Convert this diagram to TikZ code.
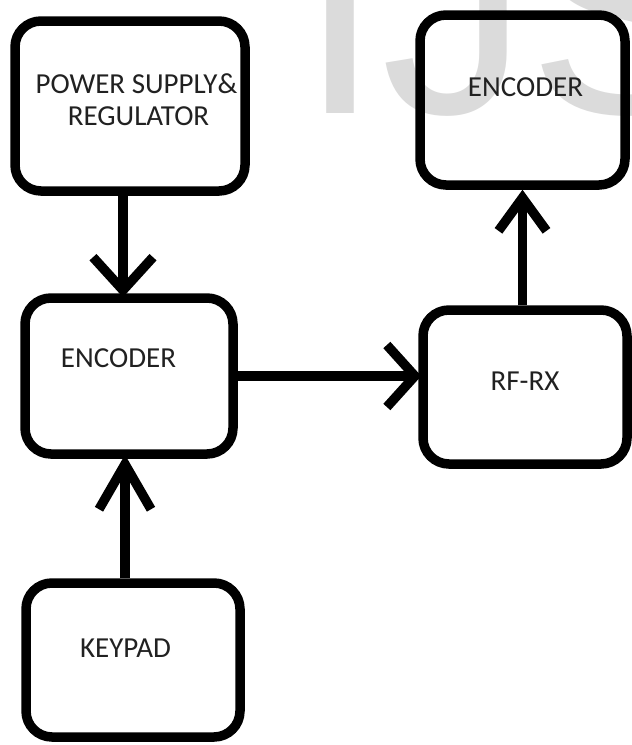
\documentclass[tikz,border=0pt]{standalone}
\usepackage{fontspec}
\setmainfont{Carlito}
\newfontfamily\wmfont{Liberation Sans}
\usetikzlibrary{arrows.meta,calc}
\definecolor{wmgray}{gray}{0.86}
\definecolor{inkgray}{gray}{0.13}
\begin{document}
\begin{tikzpicture}[x=1pt,y=-1pt,
  block/.style={draw, line width=9.5pt, rounded corners=26pt, inner sep=0pt},
  lbl/.style={font=\fontsize{29}{32}\selectfont, text=inkgray, anchor=base, inner sep=0pt},
  flow/.style={line width=9.5pt}]
  % page
  \useasboundingbox (0,0) rectangle (632,745);
  \fill[white] (0,0) rectangle (632,745);

  % watermark lettering
  \begin{scope}
    \clip (0,0) rectangle (632,745);
    \node[anchor=base west, inner sep=0pt, text=wmgray,
          font=\wmfont\fontsize{295}{295}\selectfont] (wm) at (299,113) {IJSER};
  \end{scope}

  % blocks
  \node[block, minimum width=230pt, minimum height=170pt] (ps)     at (130,106) {};
  \node[block, minimum width=208pt, minimum height=156pt] (encl)   at (129,376) {};
  \node[block, minimum width=214pt, minimum height=154pt] (keypad) at (133,660) {};
  \node[block, minimum width=205pt, minimum height=170pt] (encr)   at (522.5,100) {};
  \node[block, minimum width=204pt, minimum height=154pt] (rf)     at (525,387) {};

  % block labels
  \node[lbl] (pst1) at (136.5,93)  {POWER SUPPLY\&};
  \node[lbl] (pst2) at (138.5,125) {REGULATOR};
  \node[lbl] (enclt) at (118.5,367) {ENCODER};
  \node[lbl] (keyt) at (125.5,657) {KEYPAD};
  \node[lbl] (encrt) at (525.5,96) {ENCODER};
  \node[lbl] (rft) at (525,390) {RF-RX};

  % connectors
  \draw[flow, -{Straight Barb[length=33pt,width=60pt]}, shorten >=-4pt]
    ([xshift=-7pt]ps.south) -- ([xshift=-6pt]encl.north);
  \draw[flow, -{Straight Barb[length=45pt,width=52pt]}, shorten >=-4pt]
    ([xshift=-8pt]keypad.north) -- ([xshift=-4pt]encl.south);
  \draw[flow, -{Straight Barb[length=28pt,width=62pt]}, shorten >=-3pt]
    (encl.east) -- (encl.east -| rf.west);
  \draw[flow, -{Straight Barb[length=33pt,width=48pt]}]
    (rf.north -| encr.south) -- (encr.south);
\end{tikzpicture}
\end{document}
